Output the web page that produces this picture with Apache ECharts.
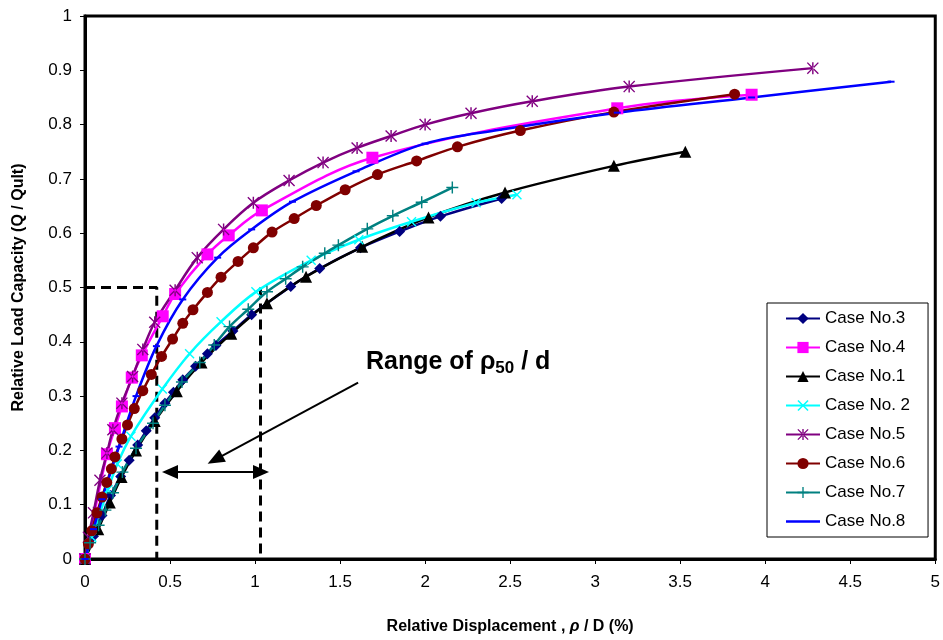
<!DOCTYPE html>
<html>
<head>
<meta charset="utf-8">
<script src="https://cdn.jsdelivr.net/npm/echarts@6/dist/echarts.min.js"></script>
<style>
html,body{margin:0;padding:0;background:#fff;}
#chart{width:943px;height:640px;}
</style>
</head>
<body>
<div id="chart"></div>
<script>
// ---- data (x = rho/D %, y = Q/Qult) ----
var case3 = [[0,0],[0.05,0.042],[0.1,0.08],[0.15,0.117],[0.21,0.152],[0.26,0.182],[0.31,0.21],[0.36,0.236],[0.41,0.26],[0.47,0.287],[0.52,0.307],[0.575,0.33],[0.65,0.355],[0.72,0.378],[0.77,0.393],[0.87,0.42],[0.98,0.45],[1.21,0.502],[1.38,0.535],[1.62,0.573],[1.85,0.603],[2.09,0.631],[2.45,0.664]];
var case4 = [[0,0],[0.129,0.193],[0.176,0.241],[0.217,0.281],[0.275,0.334],[0.334,0.375],[0.457,0.447],[0.53,0.488],[0.72,0.561],[0.845,0.596],[1.04,0.642],[1.69,0.739],[3.13,0.830],[3.92,0.855]];
var case1 = [[0,0],[0.078,0.055],[0.146,0.104],[0.215,0.151],[0.30,0.2],[0.41,0.254],[0.54,0.309],[0.685,0.362],[0.86,0.415],[1.07,0.471],[1.30,0.52],[1.63,0.575],[2.02,0.629],[2.47,0.675],[3.11,0.724],[3.53,0.75]];
var case2 = [[0,0],[0.04,0.04],[0.135,0.128],[0.19,0.175],[0.27,0.226],[0.455,0.313],[0.615,0.378],[0.80,0.437],[1.005,0.492],[1.33,0.55],[1.61,0.588],[1.92,0.621],[2.30,0.656],[2.54,0.671]];
var case5 = [[0,0],[0.02,0.04],[0.05,0.085],[0.088,0.145],[0.129,0.195],[0.164,0.238],[0.217,0.287],[0.28,0.336],[0.34,0.386],[0.41,0.436],[0.53,0.495],[0.66,0.555],[0.815,0.607],[0.99,0.656],[1.2,0.697],[1.4,0.730],[1.6,0.757],[1.8,0.779],[2.0,0.80],[2.27,0.821],[2.63,0.843],[3.2,0.870],[4.28,0.904]];
var case6 = [[0,0],[0.02,0.028],[0.04,0.052],[0.07,0.085],[0.10,0.114],[0.128,0.141],[0.155,0.166],[0.176,0.188],[0.217,0.221],[0.25,0.247],[0.29,0.277],[0.34,0.31],[0.39,0.34],[0.45,0.373],[0.515,0.405],[0.575,0.434],[0.635,0.459],[0.72,0.491],[0.80,0.519],[0.9,0.548],[0.99,0.573],[1.10,0.602],[1.23,0.627],[1.36,0.651],[1.53,0.68],[1.72,0.708],[1.95,0.733],[2.19,0.759],[2.56,0.789],[3.11,0.823],[3.82,0.856]];
var case7 = [[0,0],[0.03,0.03],[0.08,0.062],[0.12,0.09],[0.165,0.122],[0.22,0.16],[0.30,0.204],[0.40,0.25],[0.47,0.283],[0.57,0.326],[0.675,0.362],[0.76,0.394],[0.85,0.428],[0.96,0.46],[1.07,0.492],[1.18,0.516],[1.28,0.538],[1.41,0.563],[1.49,0.578],[1.66,0.608],[1.81,0.632],[1.98,0.657],[2.16,0.684]];
var case8 = [[0,0],[0.05,0.055],[0.1,0.11],[0.2,0.207],[0.3,0.30],[0.42,0.392],[0.575,0.478],[0.78,0.555],[0.98,0.607],[1.22,0.658],[1.594,0.714],[2.0,0.765],[2.43,0.79],[3.13,0.822],[3.92,0.85],[4.74,0.879]];

// annotation geometry (data units)
var refLeft = [[0,0.5],[0.422,0.5],[0.422,0]];
var refRight = [[1.032,0.5],[1.032,0]];
var rangeArrow = [[0.50,0.16],[1.035,0.16]];
var pointerArrow = [[1.606,0.325],[0.765,0.183]];

var xTicks = {min:0, max:5, interval:0.5};
var yTicks = {min:0, max:1, interval:0.1};
var legendNames = ['Case No.3','Case No.4','Case No.1','Case No. 2','Case No.5','Case No.6','Case No.7','Case No.8'];

var FONT = '"Liberation Sans", Arial, sans-serif';
var P_X = 'path://M0,1 L1,0 L5,4 L9,0 L10,1 L6,5 L10,9 L9,10 L5,6 L1,10 L0,9 L4,5 Z';
var P_PLUS = 'path://M4.4,0 H5.6 V4.4 H10 V5.6 H5.6 V10 H4.4 V5.6 H0 V4.4 H4.4 Z';
var P_AST = 'path://M0,0.8 L0.8,0 L5,4.2 L9.2,0 L10,0.8 L5.8,5 L10,9.2 L9.2,10 L5,5.8 L0.8,10 L0,9.2 L4.2,5 Z M4.4,0 L4.4,10 L5.6,10 L5.6,0 Z';
var P_BAR = 'path://M0,0 H34 V2.5 H0 Z';

function mk(name, data, color, symbol, size) {
  return {
    name: name, type: 'line', data: data,
    smooth: 0.35,
    symbol: symbol, symbolSize: size, showSymbol: true,
    lineStyle: {color: color, width: 2.5},
    itemStyle: {color: color, borderWidth: 0},
    emphasis: {disabled: true},
    z: 3
  };
}

var series = [
  mk(legendNames[0], case3, '#000080', 'diamond', 11),
  mk(legendNames[1], case4, '#FF00FF', 'rect', 12),
  mk(legendNames[2], case1, '#000000', 'triangle', 12),
  mk(legendNames[3], case2, '#00FFFF', P_X, 10),
  mk(legendNames[4], case5, '#800080', P_AST, 12),
  mk(legendNames[5], case6, '#800000', 'circle', 11),
  mk(legendNames[6], case7, '#008080', P_PLUS, 12),
  mk(legendNames[7], case8, '#0000FF', 'rect', [7,2])
];

function dashed(data) {
  return {type:'line', data:data, symbol:'none', silent:true, smooth:false,
    lineStyle:{color:'#000', width:3, type:[10,6]}, z:2};
}
series.push(dashed(refLeft));
series.push(dashed(refRight));
series.push({
  type:'line', data:[], silent:true,
  markLine:{
    silent:true, animation:false,
    symbol:['triangle','triangle'], symbolSize:[14,16],
    label:{show:false},
    lineStyle:{color:'#000', width:2, type:'solid'},
    data:[
      [{coord:rangeArrow[0]},{coord:rangeArrow[1]}],
      [{coord:pointerArrow[0], symbol:'none'},{coord:pointerArrow[1], symbol:'triangle', symbolSize:[14,17]}]
    ]
  }
});

var legendData = legendNames.map(function(n){
  return n === 'Case No.8' ? {name:n, icon:P_BAR} : {name:n};
});

var chart = echarts.init(document.getElementById('chart'));
chart.setOption({
  animation:false,
  backgroundColor:'#fff',
  textStyle:{fontFamily:FONT},
  grid:{left:85, right:5, top:16, bottom:80, show:true, borderColor:'#000', borderWidth:3, backgroundColor:'transparent'},
  xAxis:{
    type:'value', min:xTicks.min, max:xTicks.max, interval:xTicks.interval,
    name:'Relative Displacement , {i|ρ} / D (%)', nameLocation:'middle', nameGap:60,
    nameTextStyle:{fontSize:16, fontWeight:'bold', color:'#000', fontFamily:FONT,
      rich:{i:{fontSize:16, fontWeight:'bold', fontStyle:'italic', color:'#000', fontFamily:FONT}}},
    axisLine:{show:true, lineStyle:{color:'#000', width:3}},
    axisTick:{show:true, inside:false, length:5, lineStyle:{color:'#000', width:1}},
    axisLabel:{fontSize:17, color:'#000', margin:15, fontFamily:FONT},
    splitLine:{show:false}
  },
  yAxis:{
    type:'value', min:yTicks.min, max:yTicks.max, interval:yTicks.interval,
    name:'Relative Load Capacity (Q / Qult)', nameLocation:'middle', nameGap:58, nameRotate:90,
    nameTextStyle:{fontSize:16, fontWeight:'bold', color:'#000', fontFamily:FONT},
    axisLine:{show:true, lineStyle:{color:'#000', width:3}},
    axisTick:{show:true, inside:false, length:5, lineStyle:{color:'#000', width:1}},
    axisLabel:{fontSize:17, color:'#000', margin:13, fontFamily:FONT},
    splitLine:{show:false}
  },
  legend:{
    data:legendData,
    orient:'vertical', left:767, top:303,
    padding:[7,18,7,18], itemGap:12, itemWidth:34, itemHeight:14,
    borderColor:'#000', borderWidth:1, backgroundColor:'#fff',
    textStyle:{fontSize:17, color:'#000', fontFamily:FONT},
    selectedMode:false
  },
  graphic:[{
    type:'text', left:366, top:350, silent:true,
    style:{
      text:'Range of ρ{sub|50} / d',
      font:'bold 25px ' + FONT, fill:'#000',
      rich:{sub:{fontSize:17, fontWeight:'bold', fill:'#000', fontFamily:FONT, padding:[11,0,0,0]}}
    }
  }],
  series:series
});
</script>
</body>
</html>
